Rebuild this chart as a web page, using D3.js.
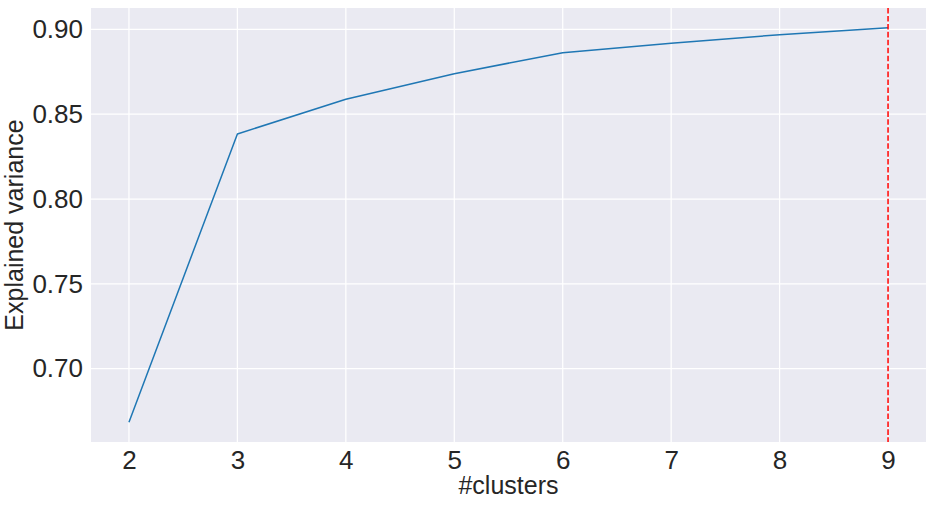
<!DOCTYPE html>
<html>
<head>
<meta charset="utf-8">
<script src="https://cdn.jsdelivr.net/npm/d3@7"></script>
<style>
  html, body { margin: 0; padding: 0; background: #ffffff; }
  svg { display: block; }
  text { font-family: "Liberation Sans", Arial, sans-serif; fill: #262626; }
</style>
</head>
<body>
<svg id="chart" width="933" height="506"></svg>
<script>
const clusters = [2, 3, 4, 5, 6, 7, 8, 9];
const explainedVariance = [0.6684, 0.8384, 0.8588, 0.8739, 0.8863, 0.8919, 0.8969, 0.9010];
const xTicks = [2, 3, 4, 5, 6, 7, 8, 9];
const yTicks = [0.70, 0.75, 0.80, 0.85, 0.90];
const chosenK = 9;

const W = 933, H = 506;
const m = { left: 91, right: 7, top: 8, bottom: 64 };
const svg = d3.select("#chart");

const xMin = d3.min(clusters), xMax = d3.max(clusters);
const xPad = (xMax - xMin) * 0.05;
const yMin = d3.min(explainedVariance), yMax = d3.max(explainedVariance);
const yPad = (yMax - yMin) * 0.05;

const x = d3.scaleLinear().domain([xMin - xPad, xMax + xPad]).range([m.left, W - m.right]);
const y = d3.scaleLinear().domain([yMin - yPad, yMax + yPad]).range([H - m.bottom, m.top]);

// background
svg.append("rect")
  .attr("x", m.left).attr("y", m.top)
  .attr("width", W - m.left - m.right).attr("height", H - m.top - m.bottom)
  .attr("fill", "#eaeaf2");

// grid
const grid = svg.append("g");
grid.selectAll(".vg").data(xTicks).join("line")
  .attr("x1", d => x(d)).attr("x2", d => x(d))
  .attr("y1", m.top).attr("y2", H - m.bottom)
  .attr("stroke", "#ffffff").attr("stroke-width", 1.25);
grid.selectAll(".hg").data(yTicks).join("line")
  .attr("x1", m.left).attr("x2", W - m.right)
  .attr("y1", d => y(d)).attr("y2", d => y(d))
  .attr("stroke", "#ffffff").attr("stroke-width", 1.25);

// axes
const xAxis = svg.append("g")
  .attr("transform", `translate(0,${H - m.bottom})`)
  .call(d3.axisBottom(x).tickValues(xTicks).tickSize(0).tickPadding(9).tickFormat(d3.format("d")));
xAxis.select(".domain").remove();
xAxis.selectAll("text").style("font-size", "26px").attr("fill", "#262626")
  .style("font-family", '"Liberation Sans", Arial, sans-serif');

const yAxis = svg.append("g")
  .attr("transform", `translate(${m.left},0)`)
  .call(d3.axisLeft(y).tickValues(yTicks).tickSize(0).tickPadding(8).tickFormat(d3.format(".2f")));
yAxis.select(".domain").remove();
yAxis.selectAll("text").style("font-size", "26px").attr("fill", "#262626")
  .style("font-family", '"Liberation Sans", Arial, sans-serif');

// line
svg.append("path")
  .datum(clusters.map((c, i) => [c, explainedVariance[i]]))
  .attr("fill", "none")
  .attr("stroke", "#1f77b4")
  .attr("stroke-width", 1.5)
  .attr("stroke-linejoin", "round")
  .attr("d", d3.line().x(d => x(d[0])).y(d => y(d[1])));

// vertical dashed line
svg.append("line")
  .attr("x1", x(chosenK)).attr("x2", x(chosenK))
  .attr("y1", m.top).attr("y2", H - m.bottom)
  .attr("stroke", "#ff0000").attr("stroke-width", 1.5)
  .attr("stroke-dasharray", "5.55,2.4");

// axis labels
svg.append("text")
  .attr("x", (m.left + W - m.right) / 2).attr("y", 494)
  .attr("text-anchor", "middle").style("font-size", "25px")
  .text("#clusters");

svg.append("text")
  .attr("transform", `translate(23,${(m.top + H - m.bottom) / 2}) rotate(-90)`)
  .attr("text-anchor", "middle").style("font-size", "25px")
  .text("Explained variance");
</script>
</body>
</html>
